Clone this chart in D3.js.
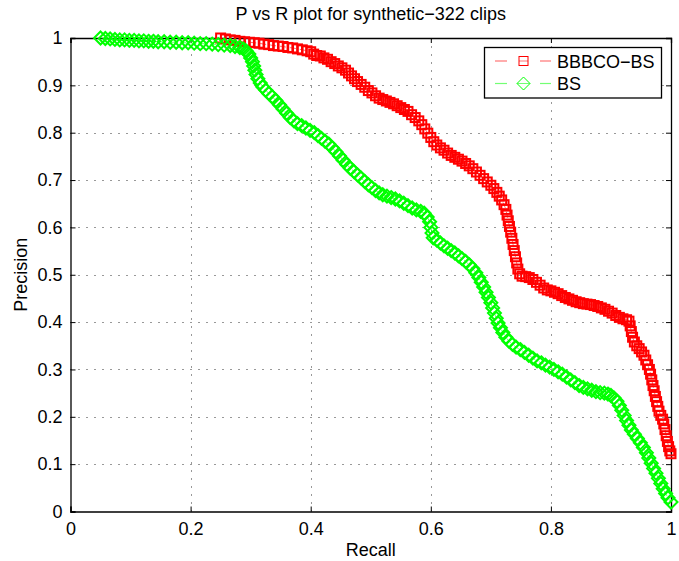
<!DOCTYPE html>
<html>
<head>
<meta charset="utf-8">
<script src="https://cdnjs.cloudflare.com/ajax/libs/d3/7.8.5/d3.min.js"></script>
<style>
  body { margin: 0; background: #fff; }
  svg text { font-family: "Liberation Sans", Arial, Helvetica, sans-serif; fill: #000; }
</style>
</head>
<body>
<svg id="chart" width="679" height="561"></svg>
<script>
// P vs R data
var seriesNames = ["BBBCO\u2212BS", "BS"];

var bbbcoRecall = [0.250,0.258,0.266,0.274,0.282,0.290,0.298,0.306,0.314,0.322,0.330,0.338,0.346,0.354,0.362,0.370,0.378,0.386,0.394,0.400,
  0.405,0.410,0.416,0.422,0.428,0.434,0.440,0.446,0.452,0.458,0.463,0.468,0.473,0.478,0.484,0.490,0.496,0.502,0.508,0.514,
  0.520,0.526,0.532,0.538,0.544,0.550,0.556,0.562,0.568,0.574,0.580,0.585,0.590,0.595,0.600,0.605,0.610,0.616,0.622,0.628,
  0.634,0.640,0.646,0.652,0.658,0.664,0.670,0.676,0.682,0.688,0.694,0.700,0.705,0.710,0.714,0.718,0.722,0.725,0.727,0.729,
  0.731,0.733,0.735,0.737,0.739,0.741,0.743,0.745,0.748,0.752,0.758,0.764,0.770,0.776,0.782,0.788,0.794,0.800,0.806,0.812,
  0.818,0.824,0.830,0.836,0.842,0.848,0.854,0.860,0.866,0.872,0.878,0.884,0.890,0.896,0.902,0.908,0.914,0.920,0.926,0.930,
  0.932,0.934,0.936,0.939,0.943,0.947,0.951,0.955,0.958,0.961,0.964,0.966,0.968,0.970,0.972,0.974,0.976,0.978,0.980,0.983,
  0.986,0.988,0.990,0.992,0.994,0.996,0.998,1.000];
var bbbcoPrecision = [1.000,0.998,0.996,0.995,0.993,0.992,0.991,0.990,0.989,0.987,0.986,0.984,0.983,0.982,0.980,0.979,0.977,0.975,0.973,0.971,
  0.966,0.963,0.962,0.958,0.955,0.950,0.946,0.941,0.937,0.932,0.926,0.920,0.914,0.908,0.902,0.896,0.889,0.884,0.878,0.873,
  0.870,0.867,0.864,0.861,0.857,0.853,0.849,0.845,0.838,0.832,0.825,0.817,0.808,0.799,0.790,0.781,0.774,0.768,0.763,0.757,
  0.752,0.748,0.744,0.740,0.735,0.730,0.724,0.717,0.710,0.703,0.696,0.689,0.682,0.674,0.666,0.658,0.648,0.638,0.626,0.614,
  0.602,0.590,0.577,0.564,0.551,0.538,0.525,0.512,0.502,0.497,0.496,0.494,0.490,0.484,0.478,0.472,0.468,0.466,0.463,0.460,
  0.456,0.452,0.449,0.446,0.443,0.441,0.439,0.438,0.437,0.435,0.433,0.430,0.427,0.423,0.419,0.414,0.410,0.407,0.405,0.402,
  0.392,0.380,0.368,0.358,0.350,0.344,0.337,0.330,0.320,0.310,0.300,0.290,0.278,0.266,0.255,0.243,0.232,0.222,0.212,0.203,
  0.195,0.185,0.173,0.160,0.148,0.137,0.128,0.122];

var bsRecall = [0.050,0.058,0.066,0.074,0.082,0.090,0.098,0.106,0.114,0.122,0.130,0.138,0.146,0.156,0.166,0.176,0.186,0.196,0.206,0.216,
  0.226,0.236,0.246,0.256,0.266,0.274,0.282,0.288,0.293,0.297,0.300,0.303,0.305,0.307,0.309,0.312,0.316,0.320,0.325,0.330,
  0.336,0.342,0.348,0.354,0.360,0.366,0.372,0.378,0.385,0.392,0.399,0.406,0.412,0.418,0.424,0.430,0.436,0.442,0.448,0.454,
  0.460,0.466,0.472,0.478,0.484,0.490,0.496,0.502,0.508,0.514,0.520,0.527,0.534,0.541,0.548,0.555,0.562,0.569,0.576,0.583,
  0.589,0.594,0.598,0.600,0.602,0.604,0.610,0.616,0.622,0.628,0.634,0.640,0.646,0.652,0.658,0.664,0.670,0.675,0.680,0.684,
  0.688,0.692,0.696,0.700,0.703,0.706,0.709,0.712,0.716,0.720,0.725,0.730,0.736,0.742,0.749,0.756,0.763,0.770,0.777,0.784,
  0.791,0.798,0.805,0.812,0.819,0.826,0.833,0.840,0.847,0.854,0.861,0.868,0.875,0.882,0.889,0.895,0.900,0.905,0.910,0.914,
  0.918,0.922,0.926,0.930,0.934,0.939,0.944,0.949,0.954,0.959,0.963,0.967,0.971,0.975,0.979,0.983,0.987,0.991,0.995,1.000];
var bsPrecision = [1.000,0.999,0.998,0.997,0.996,0.996,0.995,0.995,0.994,0.994,0.993,0.993,0.992,0.992,0.991,0.991,0.990,0.990,0.989,0.988,
  0.988,0.987,0.986,0.985,0.984,0.982,0.980,0.977,0.972,0.966,0.958,0.950,0.941,0.932,0.923,0.914,0.905,0.897,0.890,0.883,
  0.876,0.868,0.859,0.850,0.841,0.832,0.825,0.819,0.815,0.810,0.805,0.800,0.794,0.788,0.782,0.776,0.768,0.760,0.751,0.742,
  0.733,0.725,0.718,0.711,0.704,0.697,0.690,0.684,0.678,0.673,0.669,0.666,0.663,0.660,0.656,0.651,0.646,0.641,0.637,0.634,
  0.630,0.622,0.612,0.600,0.588,0.578,0.573,0.567,0.561,0.556,0.551,0.546,0.540,0.534,0.528,0.521,0.513,0.504,0.494,0.484,
  0.474,0.463,0.452,0.441,0.430,0.419,0.408,0.398,0.388,0.378,0.368,0.360,0.353,0.347,0.342,0.336,0.330,0.324,0.318,0.314,
  0.309,0.305,0.300,0.295,0.290,0.284,0.278,0.272,0.266,0.262,0.259,0.256,0.253,0.251,0.250,0.248,0.245,0.240,0.233,0.224,
  0.214,0.203,0.192,0.182,0.172,0.163,0.154,0.145,0.135,0.124,0.113,0.102,0.091,0.081,0.070,0.059,0.048,0.038,0.029,0.020];

var xTicks = [0, 0.2, 0.4, 0.6, 0.8, 1];
var yTicks = [0, 0.1, 0.2, 0.3, 0.4, 0.5, 0.6, 0.7, 0.8, 0.9, 1];

var svg = d3.select("#chart");
var plotLeft = 70.5, plotRight = 671, plotTop = 38, plotBottom = 511.5;

var x = d3.scaleLinear().domain([0, 1]).range([plotLeft, plotRight]);
var y = d3.scaleLinear().domain([0, 1]).range([plotBottom, plotTop]);

// dotted grid
var grid = svg.append("g").attr("stroke", "#333").attr("stroke-width", 1)
  .attr("stroke-dasharray", "1,7");
grid.selectAll("line.gx").data(xTicks.slice(1, -1)).enter().append("line")
  .attr("x1", function(d) { return Math.round(x(d)) + 0.5; })
  .attr("x2", function(d) { return Math.round(x(d)) + 0.5; })
  .attr("y1", plotBottom).attr("y2", plotTop);
grid.selectAll("line.gy").data(yTicks.slice(1, -1)).enter().append("line")
  .attr("y1", function(d) { return Math.round(y(d)) + 0.5; })
  .attr("y2", function(d) { return Math.round(y(d)) + 0.5; })
  .attr("x1", plotLeft).attr("x2", plotRight);

// axes (ticks point inward, box on)
var fmt = function(d) { return d3.format("")(d); };
var axB = svg.append("g").attr("transform", "translate(0," + plotBottom + ")")
  .call(d3.axisBottom(x).tickValues(xTicks).tickSize(-5).tickPadding(11).tickFormat(fmt));
var axT = svg.append("g").attr("transform", "translate(0," + plotTop + ")")
  .call(d3.axisTop(x).tickValues(xTicks).tickSize(-5).tickFormat(""));
var axL = svg.append("g").attr("transform", "translate(" + plotLeft + ",0)")
  .call(d3.axisLeft(y).tickValues(yTicks).tickSize(-5).tickPadding(8).tickFormat(fmt));
var axR = svg.append("g").attr("transform", "translate(" + plotRight + ",0)")
  .call(d3.axisRight(y).tickValues(yTicks).tickSize(-5).tickFormat(""));
[axB, axT, axL, axR].forEach(function(a) {
  a.select(".domain").attr("stroke", "#000").attr("stroke-width", 1.3);
  a.selectAll(".tick line").attr("stroke", "#000");
  a.selectAll("text").attr("font-size", 18).attr("font-family", "Liberation Sans, Arial, sans-serif");
});

// series
function pairs(r, p) { return r.map(function(v, i) { return [v, p[i]]; }); }
var red = pairs(bbbcoRecall, bbbcoPrecision);
var green = pairs(bsRecall, bsPrecision);

var line = d3.line().x(function(d) { return x(d[0]); }).y(function(d) { return y(d[1]); });

svg.append("path").datum(red).attr("d", line).attr("fill", "none")
  .attr("stroke", "#ff0000").attr("stroke-width", 0.6).attr("stroke-dasharray", "6,4");
svg.append("g").selectAll("rect").data(red).enter().append("rect")
  .attr("x", function(d) { return x(d[0]) - 4.5; })
  .attr("y", function(d) { return y(d[1]) - 4.5; })
  .attr("width", 9).attr("height", 9)
  .attr("fill", "none").attr("stroke", "#ff0000").attr("stroke-width", 2);

var diamond = function(cx, cy, h) {
  return "M" + cx + "," + (cy - h) + "L" + (cx + h) + "," + cy + "L" + cx + "," + (cy + h) + "L" + (cx - h) + "," + cy + "Z";
};
svg.append("path").datum(green).attr("d", line).attr("fill", "none")
  .attr("stroke", "#00ff00").attr("stroke-width", 0.6).attr("stroke-dasharray", "6,4");
svg.append("g").selectAll("path").data(green).enter().append("path")
  .attr("d", function(d) { return diamond(x(d[0]), y(d[1]), 6.5); })
  .attr("fill", "none").attr("stroke", "#00ff00").attr("stroke-width", 2);

// title and labels
svg.append("text").attr("x", (plotLeft + plotRight) / 2).attr("y", 20).attr("text-anchor", "middle")
  .attr("font-size", 18).text("P vs R plot for synthetic\u2212322 clips");
svg.append("text").attr("x", (plotLeft + plotRight) / 2).attr("y", 556).attr("text-anchor", "middle")
  .attr("font-size", 18).text("Recall");
svg.append("text").attr("transform", "translate(27," + ((plotTop + plotBottom) / 2) + ") rotate(-90)")
  .attr("text-anchor", "middle").attr("font-size", 18).text("Precision");

// legend
var lg = svg.append("g");
lg.append("rect").attr("x", 484.5).attr("y", 47.5).attr("width", 177).attr("height", 50.5)
  .attr("fill", "#fff").attr("stroke", "#000").attr("stroke-width", 1.3);
var legendColors = ["#ff0000", "#00ff00"];
seriesNames.forEach(function(name, i) {
  var cy = 61 + i * 22.5;
  var c = legendColors[i];
  lg.append("line").attr("x1", 495).attr("x2", 507).attr("y1", cy).attr("y2", cy)
    .attr("stroke", c).attr("stroke-opacity", 0.55).attr("stroke-width", 1.2);
  lg.append("line").attr("x1", 540).attr("x2", 551).attr("y1", cy).attr("y2", cy)
    .attr("stroke", c).attr("stroke-opacity", 0.55).attr("stroke-width", 1.2);
  if (i === 0) {
    lg.append("rect").attr("x", 519).attr("y", cy - 4.5).attr("width", 9).attr("height", 9)
      .attr("fill", "none").attr("stroke", c);
    lg.append("line").attr("x1", 519).attr("x2", 528).attr("y1", cy).attr("y2", cy)
      .attr("stroke", c).attr("stroke-opacity", 0.55);
  } else {
    lg.append("path").attr("d", diamond(523.5, cy, 6.5)).attr("fill", "none").attr("stroke", c);
    lg.append("line").attr("x1", 517).attr("x2", 530).attr("y1", cy).attr("y2", cy)
      .attr("stroke", c).attr("stroke-opacity", 0.55);
  }
  lg.append("text").attr("x", 557).attr("y", cy + 6.5).attr("font-size", 18).text(name);
});
</script>
</body>
</html>
